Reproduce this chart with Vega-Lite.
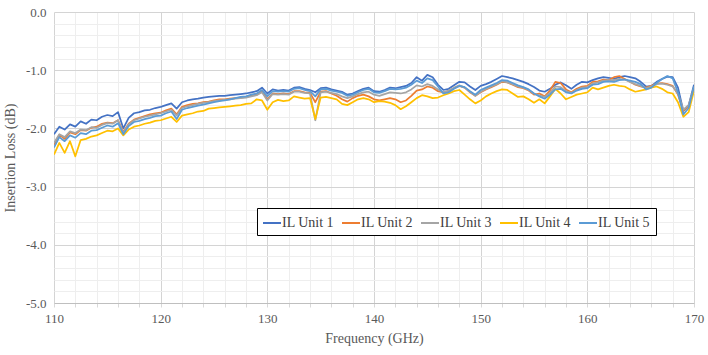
{
  "$schema": "https://vega.github.io/schema/vega-lite/v6.json",
  "width": 640,
  "height": 291,
  "autosize": {"type": "none"},
  "padding": {"left": 54, "top": 12, "right": 14, "bottom": 52},
  "background": "white",
  "config": {
    "view": {"stroke": null},
    "font": "Liberation Serif"
  },
  "data": {
    "values": [
      {"f":110.0,"IL Unit 1":-2.10,"IL Unit 2":-2.28,"IL Unit 3":-2.25,"IL Unit 4":-2.45,"IL Unit 5":-2.33},
      {"f":110.5,"IL Unit 1":-1.97,"IL Unit 2":-2.11,"IL Unit 3":-2.10,"IL Unit 4":-2.25,"IL Unit 5":-2.15},
      {"f":111.0,"IL Unit 1":-2.02,"IL Unit 2":-2.18,"IL Unit 3":-2.15,"IL Unit 4":-2.42,"IL Unit 5":-2.22},
      {"f":111.5,"IL Unit 1":-1.93,"IL Unit 2":-2.07,"IL Unit 3":-2.05,"IL Unit 4":-2.22,"IL Unit 5":-2.12},
      {"f":112.0,"IL Unit 1":-1.97,"IL Unit 2":-2.10,"IL Unit 3":-2.08,"IL Unit 4":-2.48,"IL Unit 5":-2.16},
      {"f":112.5,"IL Unit 1":-1.88,"IL Unit 2":-2.03,"IL Unit 3":-2.02,"IL Unit 4":-2.20,"IL Unit 5":-2.08},
      {"f":113.0,"IL Unit 1":-1.92,"IL Unit 2":-2.04,"IL Unit 3":-2.03,"IL Unit 4":-2.18,"IL Unit 5":-2.10},
      {"f":113.5,"IL Unit 1":-1.85,"IL Unit 2":-1.99,"IL Unit 3":-1.98,"IL Unit 4":-2.14,"IL Unit 5":-2.04},
      {"f":114.0,"IL Unit 1":-1.86,"IL Unit 2":-1.97,"IL Unit 3":-1.99,"IL Unit 4":-2.12,"IL Unit 5":-2.03},
      {"f":114.5,"IL Unit 1":-1.80,"IL Unit 2":-1.92,"IL Unit 3":-1.94,"IL Unit 4":-2.08,"IL Unit 5":-1.99},
      {"f":115.0,"IL Unit 1":-1.77,"IL Unit 2":-1.90,"IL Unit 3":-1.91,"IL Unit 4":-2.04,"IL Unit 5":-1.95},
      {"f":115.5,"IL Unit 1":-1.79,"IL Unit 2":-1.91,"IL Unit 3":-1.92,"IL Unit 4":-2.05,"IL Unit 5":-1.97},
      {"f":116.0,"IL Unit 1":-1.72,"IL Unit 2":-1.86,"IL Unit 3":-1.86,"IL Unit 4":-2.00,"IL Unit 5":-1.91},
      {"f":116.5,"IL Unit 1":-2.00,"IL Unit 2":-2.06,"IL Unit 3":-2.08,"IL Unit 4":-2.12,"IL Unit 5":-2.10},
      {"f":117.0,"IL Unit 1":-1.82,"IL Unit 2":-1.92,"IL Unit 3":-1.93,"IL Unit 4":-2.02,"IL Unit 5":-1.96},
      {"f":117.5,"IL Unit 1":-1.74,"IL Unit 2":-1.85,"IL Unit 3":-1.86,"IL Unit 4":-1.97,"IL Unit 5":-1.89},
      {"f":118.0,"IL Unit 1":-1.72,"IL Unit 2":-1.82,"IL Unit 3":-1.83,"IL Unit 4":-1.95,"IL Unit 5":-1.87},
      {"f":118.5,"IL Unit 1":-1.69,"IL Unit 2":-1.79,"IL Unit 3":-1.80,"IL Unit 4":-1.92,"IL Unit 5":-1.84},
      {"f":119.0,"IL Unit 1":-1.68,"IL Unit 2":-1.76,"IL Unit 3":-1.78,"IL Unit 4":-1.90,"IL Unit 5":-1.82},
      {"f":119.5,"IL Unit 1":-1.65,"IL Unit 2":-1.74,"IL Unit 3":-1.76,"IL Unit 4":-1.87,"IL Unit 5":-1.79},
      {"f":120.0,"IL Unit 1":-1.63,"IL Unit 2":-1.73,"IL Unit 3":-1.74,"IL Unit 4":-1.86,"IL Unit 5":-1.78},
      {"f":120.5,"IL Unit 1":-1.60,"IL Unit 2":-1.69,"IL Unit 3":-1.71,"IL Unit 4":-1.83,"IL Unit 5":-1.74},
      {"f":121.0,"IL Unit 1":-1.57,"IL Unit 2":-1.66,"IL Unit 3":-1.68,"IL Unit 4":-1.80,"IL Unit 5":-1.71},
      {"f":121.5,"IL Unit 1":-1.66,"IL Unit 2":-1.76,"IL Unit 3":-1.78,"IL Unit 4":-1.89,"IL Unit 5":-1.84},
      {"f":122.0,"IL Unit 1":-1.55,"IL Unit 2":-1.63,"IL Unit 3":-1.65,"IL Unit 4":-1.78,"IL Unit 5":-1.68},
      {"f":122.5,"IL Unit 1":-1.52,"IL Unit 2":-1.60,"IL Unit 3":-1.62,"IL Unit 4":-1.76,"IL Unit 5":-1.65},
      {"f":123.0,"IL Unit 1":-1.50,"IL Unit 2":-1.58,"IL Unit 3":-1.60,"IL Unit 4":-1.74,"IL Unit 5":-1.63},
      {"f":123.5,"IL Unit 1":-1.49,"IL Unit 2":-1.57,"IL Unit 3":-1.58,"IL Unit 4":-1.71,"IL Unit 5":-1.61},
      {"f":124.0,"IL Unit 1":-1.47,"IL Unit 2":-1.55,"IL Unit 3":-1.56,"IL Unit 4":-1.70,"IL Unit 5":-1.59},
      {"f":124.5,"IL Unit 1":-1.46,"IL Unit 2":-1.54,"IL Unit 3":-1.55,"IL Unit 4":-1.66,"IL Unit 5":-1.57},
      {"f":125.0,"IL Unit 1":-1.45,"IL Unit 2":-1.52,"IL Unit 3":-1.53,"IL Unit 4":-1.65,"IL Unit 5":-1.55},
      {"f":125.5,"IL Unit 1":-1.44,"IL Unit 2":-1.50,"IL Unit 3":-1.52,"IL Unit 4":-1.64,"IL Unit 5":-1.53},
      {"f":126.0,"IL Unit 1":-1.44,"IL Unit 2":-1.50,"IL Unit 3":-1.51,"IL Unit 4":-1.63,"IL Unit 5":-1.52},
      {"f":126.5,"IL Unit 1":-1.43,"IL Unit 2":-1.49,"IL Unit 3":-1.50,"IL Unit 4":-1.62,"IL Unit 5":-1.50},
      {"f":127.0,"IL Unit 1":-1.42,"IL Unit 2":-1.48,"IL Unit 3":-1.49,"IL Unit 4":-1.61,"IL Unit 5":-1.48},
      {"f":127.5,"IL Unit 1":-1.41,"IL Unit 2":-1.47,"IL Unit 3":-1.48,"IL Unit 4":-1.60,"IL Unit 5":-1.46},
      {"f":128.0,"IL Unit 1":-1.40,"IL Unit 2":-1.46,"IL Unit 3":-1.47,"IL Unit 4":-1.58,"IL Unit 5":-1.45},
      {"f":128.5,"IL Unit 1":-1.38,"IL Unit 2":-1.43,"IL Unit 3":-1.45,"IL Unit 4":-1.57,"IL Unit 5":-1.42},
      {"f":129.0,"IL Unit 1":-1.36,"IL Unit 2":-1.42,"IL Unit 3":-1.43,"IL Unit 4":-1.50,"IL Unit 5":-1.40},
      {"f":129.5,"IL Unit 1":-1.30,"IL Unit 2":-1.36,"IL Unit 3":-1.38,"IL Unit 4":-1.52,"IL Unit 5":-1.34},
      {"f":130.0,"IL Unit 1":-1.40,"IL Unit 2":-1.50,"IL Unit 3":-1.52,"IL Unit 4":-1.68,"IL Unit 5":-1.45},
      {"f":130.5,"IL Unit 1":-1.33,"IL Unit 2":-1.40,"IL Unit 3":-1.41,"IL Unit 4":-1.55,"IL Unit 5":-1.36},
      {"f":131.0,"IL Unit 1":-1.35,"IL Unit 2":-1.41,"IL Unit 3":-1.42,"IL Unit 4":-1.51,"IL Unit 5":-1.37},
      {"f":131.5,"IL Unit 1":-1.34,"IL Unit 2":-1.40,"IL Unit 3":-1.41,"IL Unit 4":-1.53,"IL Unit 5":-1.36},
      {"f":132.0,"IL Unit 1":-1.35,"IL Unit 2":-1.41,"IL Unit 3":-1.42,"IL Unit 4":-1.52,"IL Unit 5":-1.37},
      {"f":132.5,"IL Unit 1":-1.30,"IL Unit 2":-1.36,"IL Unit 3":-1.37,"IL Unit 4":-1.45,"IL Unit 5":-1.32},
      {"f":133.0,"IL Unit 1":-1.29,"IL Unit 2":-1.36,"IL Unit 3":-1.37,"IL Unit 4":-1.47,"IL Unit 5":-1.31},
      {"f":133.5,"IL Unit 1":-1.32,"IL Unit 2":-1.38,"IL Unit 3":-1.39,"IL Unit 4":-1.49,"IL Unit 5":-1.34},
      {"f":134.0,"IL Unit 1":-1.34,"IL Unit 2":-1.39,"IL Unit 3":-1.40,"IL Unit 4":-1.48,"IL Unit 5":-1.36},
      {"f":134.5,"IL Unit 1":-1.38,"IL Unit 2":-1.55,"IL Unit 3":-1.86,"IL Unit 4":-1.84,"IL Unit 5":-1.45},
      {"f":135.0,"IL Unit 1":-1.31,"IL Unit 2":-1.37,"IL Unit 3":-1.38,"IL Unit 4":-1.47,"IL Unit 5":-1.33},
      {"f":135.5,"IL Unit 1":-1.30,"IL Unit 2":-1.36,"IL Unit 3":-1.37,"IL Unit 4":-1.46,"IL Unit 5":-1.32},
      {"f":136.0,"IL Unit 1":-1.33,"IL Unit 2":-1.40,"IL Unit 3":-1.39,"IL Unit 4":-1.48,"IL Unit 5":-1.35},
      {"f":136.5,"IL Unit 1":-1.35,"IL Unit 2":-1.44,"IL Unit 3":-1.41,"IL Unit 4":-1.50,"IL Unit 5":-1.37},
      {"f":137.0,"IL Unit 1":-1.37,"IL Unit 2":-1.50,"IL Unit 3":-1.45,"IL Unit 4":-1.58,"IL Unit 5":-1.39},
      {"f":137.5,"IL Unit 1":-1.42,"IL Unit 2":-1.54,"IL Unit 3":-1.48,"IL Unit 4":-1.60,"IL Unit 5":-1.44},
      {"f":138.0,"IL Unit 1":-1.40,"IL Unit 2":-1.48,"IL Unit 3":-1.45,"IL Unit 4":-1.55,"IL Unit 5":-1.42},
      {"f":138.5,"IL Unit 1":-1.36,"IL Unit 2":-1.44,"IL Unit 3":-1.41,"IL Unit 4":-1.50,"IL Unit 5":-1.38},
      {"f":139.0,"IL Unit 1":-1.32,"IL Unit 2":-1.42,"IL Unit 3":-1.38,"IL Unit 4":-1.48,"IL Unit 5":-1.34},
      {"f":139.5,"IL Unit 1":-1.30,"IL Unit 2":-1.45,"IL Unit 3":-1.37,"IL Unit 4":-1.50,"IL Unit 5":-1.32},
      {"f":140.0,"IL Unit 1":-1.36,"IL Unit 2":-1.50,"IL Unit 3":-1.42,"IL Unit 4":-1.55,"IL Unit 5":-1.38},
      {"f":140.5,"IL Unit 1":-1.37,"IL Unit 2":-1.52,"IL Unit 3":-1.44,"IL Unit 4":-1.53,"IL Unit 5":-1.39},
      {"f":141.0,"IL Unit 1":-1.34,"IL Unit 2":-1.50,"IL Unit 3":-1.41,"IL Unit 4":-1.54,"IL Unit 5":-1.36},
      {"f":141.5,"IL Unit 1":-1.30,"IL Unit 2":-1.48,"IL Unit 3":-1.38,"IL Unit 4":-1.56,"IL Unit 5":-1.32},
      {"f":142.0,"IL Unit 1":-1.31,"IL Unit 2":-1.50,"IL Unit 3":-1.39,"IL Unit 4":-1.60,"IL Unit 5":-1.33},
      {"f":142.5,"IL Unit 1":-1.29,"IL Unit 2":-1.55,"IL Unit 3":-1.40,"IL Unit 4":-1.67,"IL Unit 5":-1.32},
      {"f":143.0,"IL Unit 1":-1.27,"IL Unit 2":-1.52,"IL Unit 3":-1.38,"IL Unit 4":-1.62,"IL Unit 5":-1.30},
      {"f":143.5,"IL Unit 1":-1.22,"IL Unit 2":-1.44,"IL Unit 3":-1.33,"IL Unit 4":-1.55,"IL Unit 5":-1.25},
      {"f":144.0,"IL Unit 1":-1.12,"IL Unit 2":-1.35,"IL Unit 3":-1.26,"IL Unit 4":-1.48,"IL Unit 5":-1.18},
      {"f":144.5,"IL Unit 1":-1.18,"IL Unit 2":-1.33,"IL Unit 3":-1.28,"IL Unit 4":-1.43,"IL Unit 5":-1.22},
      {"f":145.0,"IL Unit 1":-1.08,"IL Unit 2":-1.28,"IL Unit 3":-1.24,"IL Unit 4":-1.45,"IL Unit 5":-1.14},
      {"f":145.5,"IL Unit 1":-1.12,"IL Unit 2":-1.30,"IL Unit 3":-1.27,"IL Unit 4":-1.48,"IL Unit 5":-1.17},
      {"f":146.0,"IL Unit 1":-1.25,"IL Unit 2":-1.36,"IL Unit 3":-1.33,"IL Unit 4":-1.47,"IL Unit 5":-1.28},
      {"f":146.5,"IL Unit 1":-1.34,"IL Unit 2":-1.38,"IL Unit 3":-1.38,"IL Unit 4":-1.43,"IL Unit 5":-1.40},
      {"f":147.0,"IL Unit 1":-1.32,"IL Unit 2":-1.36,"IL Unit 3":-1.35,"IL Unit 4":-1.40,"IL Unit 5":-1.38},
      {"f":147.5,"IL Unit 1":-1.26,"IL Unit 2":-1.31,"IL Unit 3":-1.30,"IL Unit 4":-1.36,"IL Unit 5":-1.32},
      {"f":148.0,"IL Unit 1":-1.20,"IL Unit 2":-1.27,"IL Unit 3":-1.26,"IL Unit 4":-1.34,"IL Unit 5":-1.27},
      {"f":148.5,"IL Unit 1":-1.21,"IL Unit 2":-1.30,"IL Unit 3":-1.30,"IL Unit 4":-1.42,"IL Unit 5":-1.29},
      {"f":149.0,"IL Unit 1":-1.28,"IL Unit 2":-1.38,"IL Unit 3":-1.37,"IL Unit 4":-1.50,"IL Unit 5":-1.36},
      {"f":149.5,"IL Unit 1":-1.34,"IL Unit 2":-1.44,"IL Unit 3":-1.44,"IL Unit 4":-1.57,"IL Unit 5":-1.42},
      {"f":150.0,"IL Unit 1":-1.27,"IL Unit 2":-1.38,"IL Unit 3":-1.37,"IL Unit 4":-1.52,"IL Unit 5":-1.34},
      {"f":150.5,"IL Unit 1":-1.24,"IL Unit 2":-1.33,"IL Unit 3":-1.32,"IL Unit 4":-1.45,"IL Unit 5":-1.30},
      {"f":151.0,"IL Unit 1":-1.20,"IL Unit 2":-1.29,"IL Unit 3":-1.28,"IL Unit 4":-1.40,"IL Unit 5":-1.26},
      {"f":151.5,"IL Unit 1":-1.15,"IL Unit 2":-1.25,"IL Unit 3":-1.24,"IL Unit 4":-1.36,"IL Unit 5":-1.22},
      {"f":152.0,"IL Unit 1":-1.10,"IL Unit 2":-1.20,"IL Unit 3":-1.19,"IL Unit 4":-1.33,"IL Unit 5":-1.17},
      {"f":152.5,"IL Unit 1":-1.12,"IL Unit 2":-1.21,"IL Unit 3":-1.21,"IL Unit 4":-1.34,"IL Unit 5":-1.18},
      {"f":153.0,"IL Unit 1":-1.14,"IL Unit 2":-1.25,"IL Unit 3":-1.24,"IL Unit 4":-1.40,"IL Unit 5":-1.22},
      {"f":153.5,"IL Unit 1":-1.17,"IL Unit 2":-1.29,"IL Unit 3":-1.28,"IL Unit 4":-1.46,"IL Unit 5":-1.26},
      {"f":154.0,"IL Unit 1":-1.20,"IL Unit 2":-1.31,"IL Unit 3":-1.30,"IL Unit 4":-1.45,"IL Unit 5":-1.29},
      {"f":154.5,"IL Unit 1":-1.24,"IL Unit 2":-1.35,"IL Unit 3":-1.34,"IL Unit 4":-1.50,"IL Unit 5":-1.33},
      {"f":155.0,"IL Unit 1":-1.29,"IL Unit 2":-1.42,"IL Unit 3":-1.40,"IL Unit 4":-1.56,"IL Unit 5":-1.40},
      {"f":155.5,"IL Unit 1":-1.35,"IL Unit 2":-1.40,"IL Unit 3":-1.43,"IL Unit 4":-1.50,"IL Unit 5":-1.45},
      {"f":156.0,"IL Unit 1":-1.37,"IL Unit 2":-1.45,"IL Unit 3":-1.46,"IL Unit 4":-1.57,"IL Unit 5":-1.49},
      {"f":156.5,"IL Unit 1":-1.32,"IL Unit 2":-1.35,"IL Unit 3":-1.39,"IL Unit 4":-1.45,"IL Unit 5":-1.42},
      {"f":157.0,"IL Unit 1":-1.25,"IL Unit 2":-1.20,"IL Unit 3":-1.28,"IL Unit 4":-1.32,"IL Unit 5":-1.33},
      {"f":157.5,"IL Unit 1":-1.21,"IL Unit 2":-1.22,"IL Unit 3":-1.29,"IL Unit 4":-1.40,"IL Unit 5":-1.32},
      {"f":158.0,"IL Unit 1":-1.26,"IL Unit 2":-1.33,"IL Unit 3":-1.36,"IL Unit 4":-1.50,"IL Unit 5":-1.38},
      {"f":158.5,"IL Unit 1":-1.32,"IL Unit 2":-1.38,"IL Unit 3":-1.39,"IL Unit 4":-1.46,"IL Unit 5":-1.40},
      {"f":159.0,"IL Unit 1":-1.25,"IL Unit 2":-1.32,"IL Unit 3":-1.34,"IL Unit 4":-1.42,"IL Unit 5":-1.35},
      {"f":159.5,"IL Unit 1":-1.20,"IL Unit 2":-1.28,"IL Unit 3":-1.30,"IL Unit 4":-1.40,"IL Unit 5":-1.32},
      {"f":160.0,"IL Unit 1":-1.21,"IL Unit 2":-1.27,"IL Unit 3":-1.29,"IL Unit 4":-1.38,"IL Unit 5":-1.31},
      {"f":160.5,"IL Unit 1":-1.17,"IL Unit 2":-1.20,"IL Unit 3":-1.23,"IL Unit 4":-1.30,"IL Unit 5":-1.25},
      {"f":161.0,"IL Unit 1":-1.14,"IL Unit 2":-1.19,"IL Unit 3":-1.21,"IL Unit 4":-1.33,"IL Unit 5":-1.24},
      {"f":161.5,"IL Unit 1":-1.12,"IL Unit 2":-1.16,"IL Unit 3":-1.18,"IL Unit 4":-1.30,"IL Unit 5":-1.20},
      {"f":162.0,"IL Unit 1":-1.13,"IL Unit 2":-1.17,"IL Unit 3":-1.17,"IL Unit 4":-1.27,"IL Unit 5":-1.19},
      {"f":162.5,"IL Unit 1":-1.15,"IL Unit 2":-1.12,"IL Unit 3":-1.17,"IL Unit 4":-1.25,"IL Unit 5":-1.20},
      {"f":163.0,"IL Unit 1":-1.12,"IL Unit 2":-1.10,"IL Unit 3":-1.15,"IL Unit 4":-1.27,"IL Unit 5":-1.17},
      {"f":163.5,"IL Unit 1":-1.10,"IL Unit 2":-1.15,"IL Unit 3":-1.16,"IL Unit 4":-1.28,"IL Unit 5":-1.16},
      {"f":164.0,"IL Unit 1":-1.12,"IL Unit 2":-1.20,"IL Unit 3":-1.20,"IL Unit 4":-1.33,"IL Unit 5":-1.18},
      {"f":164.5,"IL Unit 1":-1.14,"IL Unit 2":-1.25,"IL Unit 3":-1.24,"IL Unit 4":-1.37,"IL Unit 5":-1.20},
      {"f":165.0,"IL Unit 1":-1.20,"IL Unit 2":-1.28,"IL Unit 3":-1.27,"IL Unit 4":-1.35,"IL Unit 5":-1.24},
      {"f":165.5,"IL Unit 1":-1.28,"IL Unit 2":-1.30,"IL Unit 3":-1.31,"IL Unit 4":-1.33,"IL Unit 5":-1.33},
      {"f":166.0,"IL Unit 1":-1.27,"IL Unit 2":-1.27,"IL Unit 3":-1.28,"IL Unit 4":-1.30,"IL Unit 5":-1.30},
      {"f":166.5,"IL Unit 1":-1.20,"IL Unit 2":-1.23,"IL Unit 3":-1.24,"IL Unit 4":-1.28,"IL Unit 5":-1.22},
      {"f":167.0,"IL Unit 1":-1.15,"IL Unit 2":-1.22,"IL Unit 3":-1.23,"IL Unit 4":-1.32,"IL Unit 5":-1.15},
      {"f":167.5,"IL Unit 1":-1.11,"IL Unit 2":-1.24,"IL Unit 3":-1.25,"IL Unit 4":-1.38,"IL Unit 5":-1.10},
      {"f":168.0,"IL Unit 1":-1.12,"IL Unit 2":-1.27,"IL Unit 3":-1.28,"IL Unit 4":-1.40,"IL Unit 5":-1.14},
      {"f":168.5,"IL Unit 1":-1.30,"IL Unit 2":-1.42,"IL Unit 3":-1.40,"IL Unit 4":-1.55,"IL Unit 5":-1.38},
      {"f":169.0,"IL Unit 1":-1.70,"IL Unit 2":-1.70,"IL Unit 3":-1.68,"IL Unit 4":-1.80,"IL Unit 5":-1.76},
      {"f":169.5,"IL Unit 1":-1.60,"IL Unit 2":-1.62,"IL Unit 3":-1.60,"IL Unit 4":-1.72,"IL Unit 5":-1.65},
      {"f":170.0,"IL Unit 1":-1.25,"IL Unit 2":-1.30,"IL Unit 3":-1.30,"IL Unit 4":-1.35,"IL Unit 5":-1.28}
    ]
  },
  "transform": [
    {"fold": ["IL Unit 1","IL Unit 2","IL Unit 3","IL Unit 4","IL Unit 5"], "as": ["series","il"]}
  ],
  "mark": {"type": "line", "strokeWidth": 1.75, "strokeJoin": "round", "clip": true},
  "encoding": {
    "x": {
      "field": "f", "type": "quantitative",
      "scale": {"domain": [110, 170], "nice": false, "zero": false},
      "axis": {
        "title": "Frequency (GHz)",
        "titleFont": "Liberation Serif", "titleFontSize": 14, "titleFontWeight": "normal", "titleColor": "#595959", "titlePadding": 6,
        "values": [110,112,114,116,118,120,122,124,126,128,130,132,134,136,138,140,142,144,146,148,150,152,154,156,158,160,162,164,166,168,170],
        "labelExpr": "datum.value % 10 === 0 ? datum.label : ''",
        "labelFont": "Liberation Serif", "labelFontSize": 13, "labelColor": "#595959", "labelPadding": 5,
        "labelFlush": false, "labelOverlap": false,
        "domainColor": "#bfbfbf", "domainWidth": 1,
        "ticks": true, "tickSize": 4, "tickColor": "#d9d9d9",
        "grid": true,
        "gridColor": {"condition": {"test": "datum.value % 10 === 0", "value": "#d4d4d4"}, "value": "#eeeeee"},
        "gridWidth": 1
      }
    },
    "y": {
      "field": "il", "type": "quantitative",
      "scale": {"domain": [-5, 0], "nice": false, "zero": false},
      "axis": {
        "title": "Insertion Loss (dB)",
        "titleFont": "Liberation Serif", "titleFontSize": 14, "titleFontWeight": "normal", "titleColor": "#595959", "titlePadding": 8,
        "values": [-5,-4.8,-4.6,-4.4,-4.2,-4,-3.8,-3.6,-3.4,-3.2,-3,-2.8,-2.6,-2.4,-2.2,-2,-1.8,-1.6,-1.4,-1.2,-1,-0.8,-0.6,-0.4,-0.2,0],
        "labelExpr": "abs(datum.value - round(datum.value)) < 0.01 ? replace(format(datum.value, '.1f'), '\u2212', '-') : ''",
        "labelFont": "Liberation Serif", "labelFontSize": 13, "labelColor": "#595959", "labelPadding": 8,
        "labelOverlap": false,
        "domain": false, "ticks": false,
        "grid": true,
        "gridColor": {"condition": {"test": "abs(datum.value - round(datum.value)) < 0.01", "value": "#d4d4d4"}, "value": "#eeeeee"},
        "gridWidth": 1
      }
    },
    "color": {
      "field": "series", "type": "nominal",
      "scale": {
        "domain": ["IL Unit 1","IL Unit 2","IL Unit 3","IL Unit 4","IL Unit 5"],
        "range": ["#4472C4","#ED7D31","#A5A5A5","#FFC000","#5B9BD5"]
      },
      "legend": {
        "title": null,
        "orient": "none",
        "legendX": 203,
        "legendY": 196,
        "direction": "horizontal",
        "columns": 5,
        "strokeColor": "#000000",
        "fillColor": "white",
        "padding": 5,
        "symbolType": "stroke",
        "symbolSize": 324,
        "symbolStrokeWidth": 2,
        "labelFont": "Liberation Serif",
        "labelFontSize": 14,
        "labelColor": "#404040",
        "labelOffset": 0,
        "columnPadding": 3
      }
    }
  }
}
